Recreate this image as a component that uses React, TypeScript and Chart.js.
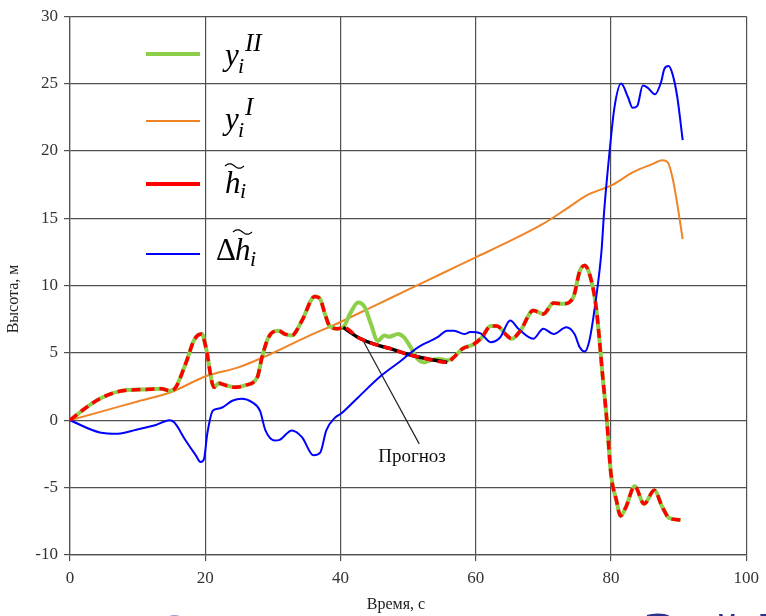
import React, { useEffect, useRef } from "react";
import { Chart, registerables } from "chart.js";

Chart.register(...registerables);

// ---- Data ----
const timeII = [0, 2, 4.4, 7.3, 11.7, 13.5, 14.7, 15.4, 17.1, 18.4, 19.5, 20.1, 21.3, 22.0, 23.0, 24.5, 25.9, 27.7, 28.4, 29.4, 30.8, 31.8, 32.8, 34.3, 36.2, 37.0, 37.7, 38.4, 39.6, 40.4, 41.4, 42.6, 43.6, 44.5, 45.5, 46.5, 47.2, 48.5, 49.4, 50.4, 51.4, 52.4, 53.3, 54.6, 55.8, 56.8, 58.0, 59.7, 60.9, 62.2, 63.1, 64.6, 65.3, 66.6, 68.5, 70.0, 71.5, 72.9, 74.4, 75.4, 76.1, 76.8, 77.8, 78.8, 79.4, 80.0, 80.8, 81.4, 82.2, 83.5, 84.9, 86.4, 87.6, 88.6, 90.3];
const valuesII = [0, 0.8, 1.6, 2.15, 2.3, 2.35, 2.2, 2.3, 4.2, 6.0, 6.4, 5.4, 2.45, 2.75, 2.6, 2.45, 2.6, 3.2, 4.7, 6.2, 6.65, 6.4, 6.3, 7.4, 9.2, 9.0, 7.9, 7.0, 6.8, 6.9, 7.9, 8.75, 8.4, 7.15, 5.9, 6.3, 6.2, 6.4, 6.15, 5.4, 4.55, 4.3, 4.45, 4.55, 4.45, 4.7, 5.3, 5.65, 6.15, 7.0, 7.0, 6.3, 6.05, 6.65, 8.15, 7.9, 8.7, 8.65, 9.1, 11.1, 11.5, 10.9, 8.4, 3.1, -0.1, -4.0, -5.95, -7.1, -6.45, -4.9, -6.2, -5.2, -6.45, -7.25, -7.4];

const timeForecast = [40.4, 42.6, 45.0, 47.5, 49.9, 52.4, 55.8];
const valuesForecast = [6.9, 6.15, 5.65, 5.3, 4.9, 4.6, 4.3];

const timeI = [0, 5, 10, 15, 20, 25, 30, 35, 40, 45, 50, 55, 60, 65, 70, 73.4, 76.4, 77.3, 80.3, 83.2, 86, 87.6, 88.4, 89.1, 89.8, 90.6];
const valuesI = [0, 0.7, 1.4, 2.1, 3.25, 3.95, 5.0, 6.2, 7.3, 8.5, 9.7, 10.9, 12.1, 13.3, 14.6, 15.7, 16.7, 16.9, 17.5, 18.4, 19.0, 19.3, 19.15, 18.0, 16.05, 13.45];

const timeDelta = [0, 4.4, 7.1, 9.8, 12.7, 14.7, 15.4, 17.1, 18.6, 19.3, 19.8, 20.3, 21.1, 21.8, 22.5, 24.0, 25.4, 26.9, 28.1, 28.9, 30.3, 31.0, 32.8, 34.3, 36.0, 37.0, 37.9, 39.2, 40.1, 42.6, 46.0, 48.9, 51.4, 54.3, 55.8, 56.8, 58.3, 59.2, 60.7, 62.2, 63.6, 65.1, 66.3, 68.5, 70.0, 71.5, 73.4, 74.6, 75.4, 76.1, 76.8, 77.8, 78.6, 79.0, 79.8, 80.5, 81.5, 82.5, 83.2, 83.9, 84.7, 85.4, 86.5, 87.4, 87.9, 88.5, 89.1, 89.8, 90.6];
const valuesDelta = [0, -0.9, -1.0, -0.7, -0.35, 0.0, -0.15, -1.5, -2.6, -3.1, -2.9, -1.0, 0.7, 0.85, 0.95, 1.45, 1.6, 1.35, 0.7, -0.75, -1.5, -1.45, -0.75, -1.25, -2.6, -2.4, -0.75, 0.2, 0.5, 1.7, 3.3, 4.4, 5.4, 6.15, 6.65, 6.65, 6.4, 6.55, 6.45, 5.8, 6.15, 7.4, 6.8, 6.05, 6.8, 6.4, 6.9, 6.4, 5.4, 5.1, 5.9, 9.1, 12.6, 15.6, 20.0, 23.2, 25.0, 24.0, 23.2, 23.35, 24.85, 24.7, 24.2, 25.1, 26.1, 26.3, 25.7, 24.0, 20.8];

const pointerTime = [43.07, 51.64];
const pointerValues = [6.16, -1.75];

const xTicks = [0, 20, 40, 60, 80, 100];
const yTicks = [-10, -5, 0, 5, 10, 15, 20, 25, 30];

const xTitle = "Время, с";
const yTitle = "Высота, м";
const annotationText = "Прогноз";

const toPts = (xs: number[], ys: number[]) => xs.map((x, i) => ({ x, y: ys[i] }));

// h~ : same as y^II except forecast interval
const timeH = [...timeII.filter((t) => t <= 40.4), ...timeForecast.slice(1), ...timeII.filter((t) => t > 56)];
const valuesH = [
  ...valuesII.filter((_, i) => timeII[i] <= 40.4),
  ...valuesForecast.slice(1),
  ...valuesII.filter((_, i) => timeII[i] > 56),
];

const SERIF = '"Liberation Serif", "Times New Roman", serif';

function drawTilde(ctx: CanvasRenderingContext2D, x: number, y: number, w: number) {
  ctx.save();
  ctx.beginPath();
  ctx.lineWidth = 1.3;
  ctx.strokeStyle = "#000";
  for (let k = 0; k <= 20; k++) {
    const t = k / 20;
    const px = x + t * w;
    const py = y - 2.2 * Math.sin(t * Math.PI * 2);
    if (k === 0) ctx.moveTo(px, py);
    else ctx.lineTo(px, py);
  }
  ctx.stroke();
  ctx.restore();
}

const overlayPlugin = {
  id: "overlay",
  afterDraw(chart: any) {
    const ctx: CanvasRenderingContext2D = chart.ctx;
    ctx.save();
    // Legend lines
    const legend = [
      { c: "#8ccf48", w: 4, y: 54 },
      { c: "#ef8427", w: 2, y: 121 },
      { c: "#ff0000", w: 4, y: 184 },
      { c: "#0000ff", w: 2, y: 254 },
    ];
    legend.forEach((l) => {
      ctx.beginPath();
      ctx.strokeStyle = l.c;
      ctx.lineWidth = l.w;
      ctx.moveTo(146, l.y);
      ctx.lineTo(200, l.y);
      ctx.stroke();
    });
    ctx.fillStyle = "#000";
    ctx.textAlign = "left";
    ctx.textBaseline = "alphabetic";
    // y_i^II
    ctx.font = `italic 31px ${SERIF}`;
    ctx.fillText("y", 225, 65);
    ctx.font = `italic 22px ${SERIF}`;
    ctx.fillText("i", 238, 73);
    ctx.font = `italic 25px ${SERIF}`;
    ctx.fillText("II", 245, 51);
    // y_i^I
    ctx.font = `italic 31px ${SERIF}`;
    ctx.fillText("y", 225, 129);
    ctx.font = `italic 22px ${SERIF}`;
    ctx.fillText("i", 238, 137);
    ctx.font = `italic 25px ${SERIF}`;
    ctx.fillText("I", 245, 115);
    // h~_i
    ctx.font = `italic 31px ${SERIF}`;
    ctx.fillText("h", 225, 193);
    ctx.font = `italic 22px ${SERIF}`;
    ctx.fillText("i", 240, 198);
    drawTilde(ctx, 225, 166, 19);
    // Delta h~_i
    ctx.font = `31px ${SERIF}`;
    ctx.fillText("Δ", 216, 260);
    ctx.font = `italic 31px ${SERIF}`;
    ctx.fillText("h", 235, 260);
    ctx.font = `italic 22px ${SERIF}`;
    ctx.fillText("i", 250, 266);
    drawTilde(ctx, 233, 232, 19);

    // Annotation text
    ctx.font = `19px ${SERIF}`;
    ctx.textAlign = "center";
    ctx.fillStyle = "#111";
    ctx.fillText(annotationText, 412, 462);

    // Axis titles
    ctx.font = `16px ${SERIF}`;
    ctx.fillStyle = "#222";
    ctx.textBaseline = "middle";
    ctx.fillText(xTitle, 396, 605);
    ctx.save();
    ctx.translate(14, 299);
    ctx.rotate(-Math.PI / 2);
    ctx.fillText(yTitle, 0, 0);
    ctx.restore();

    // Cut-off slide title glyphs at the bottom
    ctx.fillStyle = "#2e3190";
    ctx.textBaseline = "alphabetic";
    ctx.textAlign = "left";
    ctx.font = `bold 48px "DejaVu Sans", sans-serif`;
    ctx.fillText("О", 154, 651);
    ctx.fillText("З", 643, 649);
    ctx.fillText("й", 710, 651);
    ctx.fillText("Б", 756, 649);
    ctx.restore();
  },
};

export default function App() {
  const canvasRef = useRef<HTMLCanvasElement | null>(null);

  useEffect(() => {
    document.body.style.margin = "0";
    const canvas = canvasRef.current;
    if (!canvas) return;
    const gridColor = "#505050";
    const chart = new Chart(canvas, {
      type: "line",
      data: {
        datasets: [
          {
            label: "h~",
            data: toPts(timeH, valuesH),
            borderColor: "#ff0000",
            borderWidth: 3.5,
            borderDash: [9, 5],
            cubicInterpolationMode: "monotone",
            order: 0,
          },
          {
            label: "Δh~",
            data: toPts(timeDelta, valuesDelta),
            borderColor: "#0000ff",
            borderWidth: 2,
            cubicInterpolationMode: "monotone",
            order: 1,
          },
          {
            label: "forecast",
            data: toPts(timeForecast, valuesForecast),
            borderColor: "#000000",
            borderWidth: 3.5,
            cubicInterpolationMode: "monotone",
            order: 2,
          },
          {
            label: "yII",
            data: toPts(timeII, valuesII),
            borderColor: "#8ccf48",
            borderWidth: 4,
            cubicInterpolationMode: "monotone",
            order: 3,
          },
          {
            label: "yI",
            data: toPts(timeI, valuesI),
            borderColor: "#ef8427",
            borderWidth: 2,
            cubicInterpolationMode: "monotone",
            order: 4,
          },
          {
            label: "pointer",
            data: toPts(pointerTime, pointerValues),
            borderColor: "#222",
            borderWidth: 1.2,
            order: 5,
          },
        ],
      },
      options: {
        responsive: false,
        maintainAspectRatio: false,
        animation: false,
        devicePixelRatio: 1,
        layout: { padding: { top: 16, right: 15, left: 0, bottom: 0 } },
        elements: { point: { radius: 0, hoverRadius: 0 }, line: { fill: false } },
        plugins: { legend: { display: false }, tooltip: { enabled: false } },
        scales: {
          x: {
            type: "linear",
            min: 0,
            max: 100,
            afterBuildTicks: (s: any) => {
              s.ticks = xTicks.map((v) => ({ value: v }));
            },
            afterFit: (s: any) => {
              s.height = 61;
            },
            ticks: {
              font: { family: SERIF, size: 17 },
              color: "#333",
              padding: 7,
              maxRotation: 0,
            },
            grid: { color: gridColor, lineWidth: 1.2, tickLength: 6 },
            border: { color: gridColor, width: 1.2 },
          },
          y: {
            type: "linear",
            min: -10,
            max: 30,
            afterBuildTicks: (s: any) => {
              s.ticks = yTicks.map((v) => ({ value: v }));
            },
            afterFit: (s: any) => {
              s.width = 70;
            },
            ticks: {
              font: { family: SERIF, size: 17 },
              color: "#333",
              padding: 6,
            },
            grid: { color: gridColor, lineWidth: 1.2, tickLength: 6 },
            border: { color: gridColor, width: 1.2 },
          },
        },
      },
      plugins: [overlayPlugin],
    });
    return () => chart.destroy();
  }, []);

  return (
    <div style={{ width: 766, height: 616, position: "relative", background: "#fff" }}>
      <canvas ref={canvasRef} width={766} height={616} style={{ display: "block" }} />
    </div>
  );
}
